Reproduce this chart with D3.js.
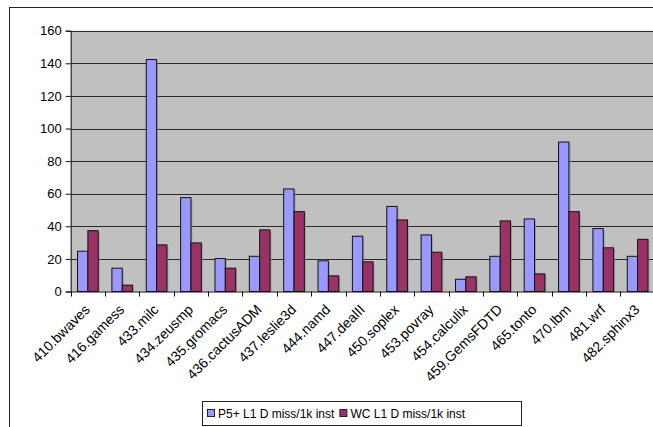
<!DOCTYPE html>
<html>
<head>
<meta charset="utf-8">
<script src="https://cdn.jsdelivr.net/npm/d3@7"></script>
<style>
  html, body { margin: 0; padding: 0; background: #fff; }
  svg { display: block; font-family: "Liberation Sans", Arial, Helvetica, sans-serif; }
</style>
</head>
<body>
<svg id="chart" width="653" height="427"></svg>
<script>
// Benchmarks (SPEC CPU2006)
const categories = ["410.bwaves", "416.gamess", "433.milc", "434.zeusmp", "435.gromacs",
  "436.cactusADM", "437.leslie3d", "444.namd", "447.dealII", "450.soplex", "453.povray",
  "454.calculix", "459.GemsFDTD", "465.tonto", "470.lbm", "481.wrf", "482.sphinx3"];

// L1 data-cache misses per 1000 instructions
const p5Values = [24.7, 14.3, 142.3, 57.6, 20.2, 21.6, 62.9, 18.8, 33.9, 52.2, 34.7, 7.5, 21.6, 44.5, 91.7, 38.6, 21.6];
const wcValues = [37.3, 3.9, 28.6, 29.8, 14.3, 37.8, 49.0, 9.6, 18.2, 43.9, 24.1, 9.0, 43.3, 10.8, 49.0, 26.8, 32.0];

const seriesNames = ["P5+ L1 D miss/1k inst", "WC L1 D miss/1k inst"];
const seriesColors = ["#9999FF", "#993366"];
const yTicks = [0, 20, 40, 60, 80, 100, 120, 140, 160];

const svg = d3.select("#chart");

// Outer chart frame
svg.append("rect")
  .attr("x", 9.5).attr("y", 7.5)
  .attr("width", 660).attr("height", 440)
  .attr("fill", "#fff").attr("stroke", "#222").attr("stroke-width", 1);

const plot = { left: 70.7, right: 654.8, top: 30.7, bottom: 291.5 };

const x = d3.scaleBand().domain(categories).range([plot.left, plot.right]).paddingInner(0).paddingOuter(0);
const xs = d3.scaleBand().domain([0, 1]).range([0, x.bandwidth()]).paddingInner(0).paddingOuter(0.66);
const y = d3.scaleLinear().domain([0, 160]).range([plot.bottom, plot.top]);

// Plot background
svg.append("rect")
  .attr("x", plot.left).attr("y", plot.top)
  .attr("width", plot.right - plot.left).attr("height", plot.bottom - plot.top)
  .attr("fill", "#C0C0C0");

// Horizontal gridlines
svg.append("g")
  .selectAll("line")
  .data(yTicks.filter(d => d > 0))
  .join("line")
  .attr("x1", plot.left).attr("x2", plot.right)
  .attr("y1", d => Math.round(y(d)) + 0.5).attr("y2", d => Math.round(y(d)) + 0.5)
  .attr("stroke", "#2a2a2a").attr("stroke-width", 1);

// Bars
const rows = categories.map((c, i) => ({ cat: c, vals: [p5Values[i], wcValues[i]] }));
const groups = svg.append("g").selectAll("g")
  .data(rows)
  .join("g")
  .attr("transform", d => `translate(${x(d.cat)},0)`);

const bars = groups.selectAll("g")
  .data(d => d.vals.map((v, k) => ({ v, k })))
  .join("g");

// faint drop shadow on the right of each bar
bars.append("rect")
  .attr("x", d => xs(d.k) + 1.5)
  .attr("y", d => y(d.v) + 1.5)
  .attr("width", xs.bandwidth())
  .attr("height", d => y(0) - y(d.v) - 1.5)
  .attr("fill", "#8a8a8a").attr("opacity", 0.6);

bars.append("rect")
  .attr("x", d => xs(d.k))
  .attr("y", d => y(d.v))
  .attr("width", xs.bandwidth())
  .attr("height", d => y(0) - y(d.v))
  .attr("fill", d => seriesColors[d.k])
  .attr("stroke", "#111").attr("stroke-width", 1);

// Y axis
const yAxis = d3.axisLeft(y).tickValues(yTicks).tickSize(5).tickPadding(4);
const gy = svg.append("g")
  .attr("transform", `translate(${plot.left},0)`)
  .call(yAxis);
gy.select(".domain").attr("stroke", "#111");
gy.selectAll(".tick line").attr("stroke", "#111");
gy.selectAll("text").attr("font-size", 13).attr("fill", "#000")
  .attr("font-family", "'Liberation Sans', Arial, sans-serif");

// X axis with category boundaries as ticks
const xAxis = d3.axisBottom(x).tickSize(0).tickFormat("");
const gx = svg.append("g")
  .attr("transform", `translate(0,${plot.bottom})`)
  .call(xAxis);
gx.select(".domain").attr("stroke", "#111");
gx.append("g").selectAll("line")
  .data(categories)
  .join("line")
  .attr("x1", d => Math.round(x(d)) + 0.5).attr("x2", d => Math.round(x(d)) + 0.5)
  .attr("y1", 0).attr("y2", 5)
  .attr("stroke", "#111");

// Rotated category labels
svg.append("g").selectAll("text")
  .data(categories)
  .join("text")
  .attr("transform", d => `translate(${x(d) + x.bandwidth() / 2 - 4},${plot.bottom + 12}) rotate(-45)`)
  .attr("text-anchor", "end")
  .attr("dy", "0.7em")
  .attr("font-size", 14)
  .attr("fill", "#000")
  .text(d => d);

// Legend
const legend = svg.append("g");
legend.append("rect")
  .attr("x", 202.5).attr("y", 401.5).attr("width", 319).attr("height", 24)
  .attr("fill", "#fff").attr("stroke", "#222");
let lx = 207;
seriesNames.forEach((name, k) => {
  legend.append("rect")
    .attr("x", lx + 0.5).attr("y", 409.5).attr("width", 7).attr("height", 7)
    .attr("fill", seriesColors[k]).attr("stroke", "#222");
  const t = legend.append("text")
    .attr("x", lx + 11).attr("y", 417.5)
    .attr("font-size", 12).attr("fill", "#000")
    .text(name);
  lx += 11 + t.node().getComputedTextLength() + 5;
});
</script>
</body>
</html>
